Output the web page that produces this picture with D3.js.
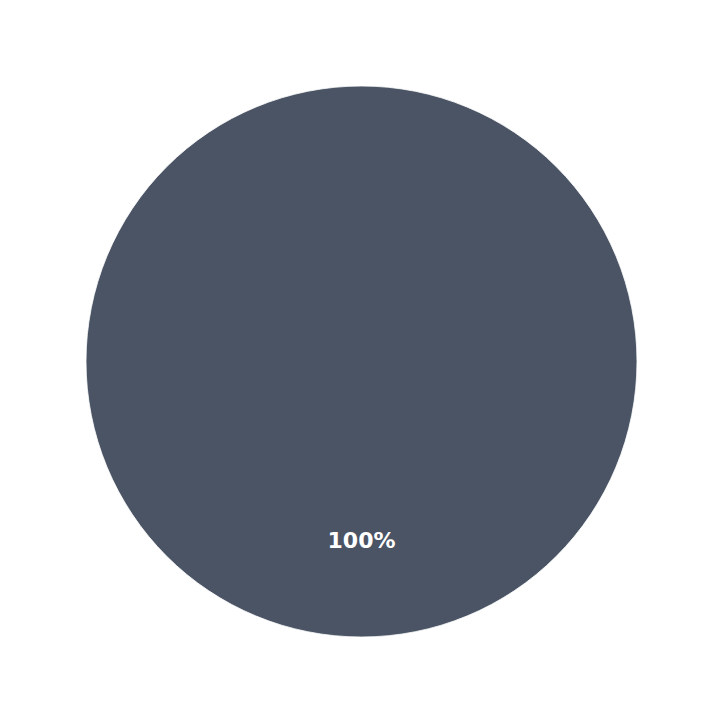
<!DOCTYPE html>
<html>
<head>
<meta charset="utf-8">
<script src="https://cdn.jsdelivr.net/npm/d3@7"></script>
<style>
  body { margin: 0; background: #ffffff; }
</style>
</head>
<body>
<div id="chart"></div>
<script>
const labels = ["All"];
const values = [100];
const colors = ["#4a5464"];

const width = 723;
const height = 723;
const radius = 275.5;

const svg = d3
  .select("#chart")
  .append("svg")
  .attr("width", width)
  .attr("height", height)
  .append("g")
  .attr("transform", `translate(${361.5}, ${361.5})`);

const colorScale = d3.scaleOrdinal().domain(labels).range(colors);

// start at the top, go counter-clockwise like matplotlib
const pieGenerator = d3
  .pie()
  .sort(null)
  .startAngle(0)
  .endAngle(-2 * Math.PI)
  .value((d) => d.value);

const arcGenerator = d3.arc().innerRadius(0).outerRadius(radius);
// labels sit at 0.65 of the radius
const labelArc = d3.arc().innerRadius(radius * 0.65).outerRadius(radius * 0.65);

const data = labels.map((l, i) => ({ label: l, value: values[i] }));
const total = d3.sum(values);

const arcs = svg.selectAll(".slice").data(pieGenerator(data)).enter().append("g");

arcs
  .append("path")
  .attr("d", arcGenerator)
  .attr("fill", (d) => colorScale(d.data.label))
  .attr("stroke", "#ffffff")
  .attr("stroke-width", 0.8);

arcs
  .append("text")
  .attr("transform", (d) => {
    const [x, y] = labelArc.centroid(d);
    return `translate(${x}, ${y})`;
  })
  .attr("text-anchor", "middle")
  .attr("dominant-baseline", "central")
  .style("font-family", "DejaVu Sans")
  .style("font-weight", "bold")
  .style("font-size", "22px")
  .style("fill", "#ffffff")
  .text((d) => `${Math.round((d.data.value / total) * 100)}%`);
</script>
</body>
</html>
